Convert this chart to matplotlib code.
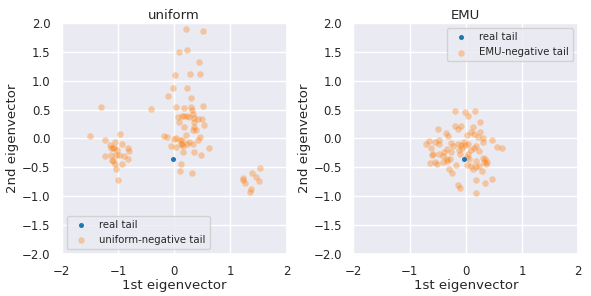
import matplotlib
matplotlib.use("Agg")
import matplotlib.pyplot as plt
import seaborn as sns

# real tail (one point per panel)
real_uniform = ([-0.03], [-0.35])
real_emu = ([-0.04], [-0.35])

# uniform-negative tail
uni_x = [0.21, 0.52, 0.085, 0.23, 0.44, 0.01, 0.28, 0.45, -0.02, 0.23, -0.11, 0.30,
         -1.30, -0.41,
         0.04, 0.18, 0.30, 0.31, 0.52, 0.34, 0.07, 0.13, 0.18, 0.22, 0.27, 0.35, 0.43, 0.49,
         0.085, 0.36, 0.53, 0.18, 0.36, 0.34, 0.39, 0.21, 0.45, 0.42,
         -0.19, -0.13, 0.00, 0.04, 0.10, 0.13,
         -0.06, 0.04, 0.12, 0.14, 0.16, 0.23, 0.26, 0.34,
         0.15, 0.36, 0.47, 0.61, 0.12, 0.10, 0.32,
         -1.50, -1.23, -0.96, -1.05,
         -1.14, -1.09, -1.12, -1.07, -1.02, -0.93, -0.83, -0.80, -0.89, -0.83,
         -1.23, -1.13, -1.03, -0.99, -1.11, -1.08, -1.06, -0.93, -1.04, -1.00,
         1.53, 1.38, 1.45, 1.22, 1.23, 1.50, 1.25, 1.37, 1.34]
uni_y = [1.89, 1.86, 1.49, 1.54, 1.32, 1.10, 1.11, 1.11, 0.87, 0.87, 0.74, 0.70,
         0.54, 0.51,
         0.55, 0.52, 0.55, 0.50, 0.56, 0.43, 0.37, 0.39, 0.39, 0.39, 0.37, 0.35, 0.33, 0.33,
         0.29, 0.29, 0.23, 0.20, 0.20, 0.14, 0.14, 0.06, 0.03, -0.03,
         0.04, 0.02, -0.01, 0.00, -0.03, -0.02,
         -0.13, -0.15, -0.09, -0.10, -0.13, -0.10, -0.06, -0.09,
         -0.23, -0.24, -0.29, -0.16, -0.45, -0.56, -0.59,
         0.04, -0.02, 0.07, -0.06,
         -0.12, -0.16, -0.17, -0.17, -0.20, -0.10, -0.16, -0.21, -0.30, -0.36,
         -0.30, -0.29, -0.28, -0.28, -0.37, -0.39, -0.45, -0.44, -0.52, -0.72,
         -0.51, -0.59, -0.67, -0.69, -0.72, -0.74, -0.77, -0.88, -0.93]

# EMU-negative tail
emu_x = [-0.20, -0.01, 0.16, 0.04, 0.26, -0.20, -0.08, -0.13, 0.12, -0.49, 0.09, 0.25,
         -0.36, 0.02, 0.15, -0.32, 0.21, 0.31, -0.48, -0.66, -0.54, -0.47, -0.71, -0.27,
         -0.14, -0.04, 0.04, -0.22, -0.08, -0.01, 0.19, 0.30, 0.46, 0.56, 0.64, -0.61,
         -0.34, -0.39, -0.26, -0.12, -0.07, 0.10, 0.15, 0.23, -0.58, -0.48, -0.60, -0.41,
         -0.10, 0.04, 0.03, 0.31, 0.06, -0.33, -0.28, 0.19, 0.34, -0.64, -0.54, -0.52,
         -0.41, -0.34, 0.33, 0.38, 0.36, -0.18, 0.03, 0.10, 0.18, 0.24, 0.13, 0.29,
         -0.29, -0.25, 0.19, 0.35, 0.47, -0.13, -0.10, 0.19]
emu_y = [0.48, 0.46, 0.47, 0.39, 0.28, 0.21, 0.22, 0.17, 0.20, 0.16, 0.11, 0.12,
         0.10, 0.06, 0.07, 0.04, 0.03, 0.01, -0.02, -0.04, -0.06, -0.09, -0.10, -0.08,
         -0.09, -0.06, -0.10, -0.13, -0.11, -0.12, -0.13, -0.06, -0.03, -0.14, -0.16, -0.16,
         -0.18, -0.23, -0.24, -0.20, -0.16, -0.20, -0.16, -0.22, -0.26, -0.27, -0.28, -0.31,
         -0.26, -0.26, -0.32, -0.33, -0.36, -0.35, -0.36, -0.39, -0.36, -0.42, -0.40, -0.44,
         -0.41, -0.39, -0.41, -0.41, -0.45, -0.46, -0.46, -0.47, -0.49, -0.48, -0.52, -0.56,
         -0.52, -0.60, -0.71, -0.77, -0.70, -0.81, -0.86, -0.94]

sns.set_theme(style="darkgrid")
plt.rcParams['font.family'] = ['DejaVu Sans']

fig = plt.figure(figsize=(5.91, 2.96), dpi=100)
ax1 = fig.add_axes([0.1044, 0.1419, 0.3807, 0.7804])
ax2 = fig.add_axes([0.5978, 0.1419, 0.3807, 0.7804])

panels = [
    (ax1, "uniform", real_uniform, uni_x, uni_y, "uniform-negative tail", "lower left"),
    (ax2, "EMU", real_emu, emu_x, emu_y, "EMU-negative tail", "upper right"),
]
for ax, title, real, nx, ny, lab, loc in panels:
    ax.scatter(real[0], real[1], s=13, color="#1f77b4", linewidths=0, label="real tail", zorder=3)
    ax.scatter(nx, ny, s=22, color="#ff7f0e", alpha=0.35, linewidths=0, label=lab)
    ax.set_xlim(-2, 2)
    ax.set_ylim(-2, 2)
    ax.set_xticks([-2, -1, 0, 1, 2])
    ax.set_yticks([-2.0, -1.5, -1.0, -0.5, 0.0, 0.5, 1.0, 1.5, 2.0])
    ax.tick_params(labelsize=8.5, pad=2)
    ax.set_xlabel("1st eigenvector", fontsize=9.5, labelpad=1)
    ax.set_ylabel("2nd eigenvector", fontsize=9.5, labelpad=2)
    ax.set_title(title, fontsize=9.5, pad=3)
    ax.legend(loc=loc, fontsize=7.3, markerscale=1.0)

fig.savefig("out.png", dpi=100)
